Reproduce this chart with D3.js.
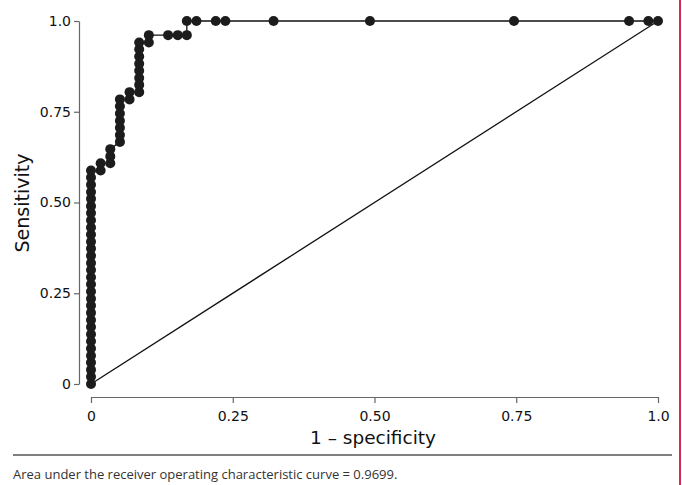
<!DOCTYPE html>
<html>
<head>
<meta charset="utf-8">
<script src="https://cdn.jsdelivr.net/npm/d3@7"></script>
<style>
  body { margin: 0; background: #fff; }
  .axis path, .axis line { stroke: #666; stroke-width: 1.2; }
</style>
</head>
<body>
<div id="chart"></div>
<script>
var width = 682, height = 485;

// ROC points (1 - specificity, sensitivity)
var fpr = [0, 0, 0, 0, 0, 0, 0, 0, 0, 0, 0, 0, 0, 0, 0, 0, 0, 0, 0, 0, 0, 0, 0, 0, 0, 0, 0, 0, 0, 0, 0,
    0.017, 0.017,
    0.034, 0.034, 0.034,
    0.051, 0.051, 0.051, 0.051, 0.051, 0.051, 0.051,
    0.068, 0.068,
    0.085, 0.085, 0.085, 0.085, 0.085, 0.085, 0.085, 0.085,
    0.102, 0.102,
    0.136, 0.153, 0.169, 0.169,
    0.186, 0.22, 0.237, 0.322, 0.492, 0.746, 0.949, 0.983, 1.0];
var tpr = [0, 0.02, 0.039, 0.059, 0.078, 0.098, 0.118, 0.137, 0.157, 0.176, 0.196, 0.216, 0.235, 0.255, 0.275,
    0.294, 0.314, 0.333, 0.353, 0.373, 0.392, 0.412, 0.431, 0.451, 0.471, 0.49, 0.51, 0.529, 0.549, 0.569, 0.588,
    0.588, 0.608,
    0.608, 0.627, 0.647,
    0.667, 0.686, 0.706, 0.725, 0.745, 0.765, 0.784,
    0.784, 0.804,
    0.804, 0.824, 0.843, 0.863, 0.882, 0.902, 0.922, 0.941,
    0.941, 0.961,
    0.961, 0.961, 0.961, 1.0,
    1.0, 1.0, 1.0, 1.0, 1.0, 1.0, 1.0, 1.0, 1.0];
var xTicks = [0, 0.25, 0.5, 0.75, 1.0],
    xTickLabels = ["0", "0.25", "0.50", "0.75", "1.0"],
    yTicks = [0, 0.25, 0.5, 0.75, 1.0],
    yTickLabels = ["0", "0.25", "0.50", "0.75", "1.0"];
var xTitle = "1 \u2013 specificity",
    yTitle = "Sensitivity",
    caption = "Area under the receiver operating characteristic curve = 0.9699.";

var points = fpr.map(function(d, i) { return { x: d, y: tpr[i] }; });

var svg = d3.select("#chart").append("svg")
    .attr("width", width)
    .attr("height", height);

var x = d3.scaleLinear().domain([0, 1]).range([91, 658]);
var y = d3.scaleLinear().domain([0, 1]).range([384, 21]);

var tickFont = "DejaVu Sans, sans-serif";

svg.append("g")
    .attr("class", "axis")
    .attr("transform", "translate(0,397)")
    .attr("font-size", 14)
    .call(d3.axisBottom(x).tickValues(xTicks).tickSize(6).tickSizeOuter(0)
        .tickFormat(function(d, i) { return xTickLabels[i]; }))
    .selectAll("text")
    .attr("dy", "1.1em")
    .attr("font-size", 14)
    .style("font-family", tickFont)
    .style("font-size", "14px")
    .style("fill", "#111");

svg.append("g")
    .attr("class", "axis")
    .attr("transform", "translate(79,0)")
    .call(d3.axisLeft(y).tickValues(yTicks).tickSize(5).tickSizeOuter(0)
        .tickFormat(function(d, i) { return yTickLabels[i]; }))
    .selectAll("text")
    .attr("x", -8)
    .attr("font-size", 14)
    .style("font-family", tickFont)
    .style("font-size", "14px")
    .style("fill", "#111");

// chance line
svg.append("line")
    .attr("x1", x(0)).attr("y1", y(0))
    .attr("x2", x(1)).attr("y2", y(1))
    .attr("stroke", "#111")
    .attr("stroke-width", 1.3);

var line = d3.line()
    .x(function(d) { return x(d.x); })
    .y(function(d) { return y(d.y); });

svg.append("path")
    .datum(points)
    .attr("d", line)
    .attr("fill", "none")
    .attr("stroke", "#111")
    .attr("stroke-width", 1.3);

svg.selectAll(".dot")
    .data(points)
    .enter().append("circle")
    .attr("class", "dot")
    .attr("cx", function(d) { return x(d.x); })
    .attr("cy", function(d) { return y(d.y); })
    .attr("r", 5)
    .style("fill", "#1c1c1c");

svg.append("text")
    .attr("x", 373)
    .attr("y", 444)
    .attr("text-anchor", "middle")
    .style("font-family", tickFont)
    .style("font-size", "18.5px")
    .style("fill", "#111")
    .text(xTitle);

svg.append("text")
    .attr("transform", "translate(29,203) rotate(-90)")
    .attr("text-anchor", "middle")
    .style("font-family", tickFont)
    .style("font-size", "19px")
    .style("fill", "#111")
    .text(yTitle);

svg.append("line")
    .attr("x1", 13).attr("x2", 672)
    .attr("y1", 455).attr("y2", 455)
    .attr("stroke", "#555")
    .attr("stroke-width", 1.5);

svg.append("text")
    .attr("x", 13)
    .attr("y", 479)
    .style("font-family", "Open Sans, sans-serif")
    .style("font-size", "13px")
    .style("fill", "#333")
    .text(caption);

// red edge on the right
svg.append("line")
    .attr("x1", 680).attr("x2", 680)
    .attr("y1", 0).attr("y2", height)
    .attr("stroke", "#d62a55")
    .attr("stroke-width", 2);
</script>
</body>
</html>
